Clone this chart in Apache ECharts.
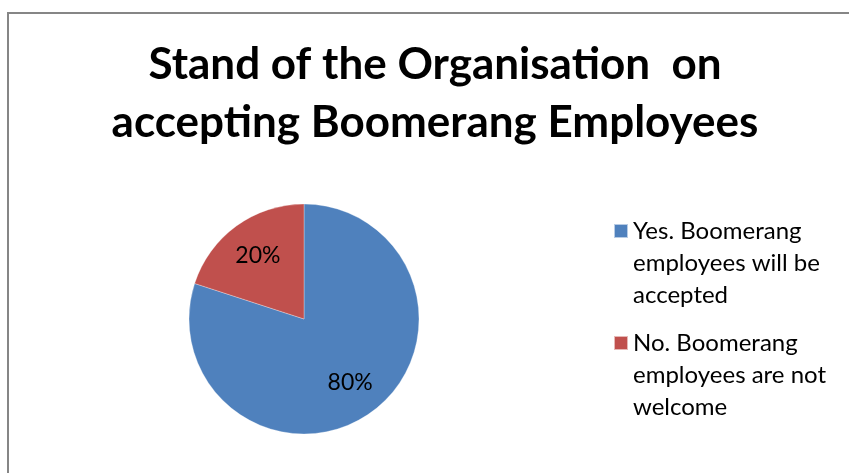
<!DOCTYPE html>
<html>
<head>
<meta charset="utf-8">
<script src="https://cdn.jsdelivr.net/npm/echarts@6/dist/echarts.min.js"></script>
<style>
  html, body { margin: 0; padding: 0; background: #ffffff; }
  #chart { width: 849px; height: 473px; }
</style>
</head>
<body>
<div id="chart"></div>
<script>
// Survey answers and their shares (percent)
const categories = [
  'Yes. Boomerang\nemployees will be\naccepted',
  'No. Boomerang\nemployees are not\nwelcome'
];
const shares = [80, 20];
const sliceColors = ['#4F81BD', '#C0504D'];
const titleLines = ['Stand of the Organisation  on', 'accepting Boomerang Employees'];

const pieData = categories.map((name, i) => ({
  name: name,
  value: shares[i],
  itemStyle: { color: sliceColors[i] }
}));

const chart = echarts.init(document.getElementById('chart'), null, { renderer: 'canvas' });

chart.setOption({
  backgroundColor: '#ffffff',
  animation: false,
  title: {
    text: titleLines.join('\n'),
    left: 430,
    top: 31,
    textAlign: 'center',
    textStyle: {
      fontFamily: 'Lato',
      fontWeight: 'bold',
      fontSize: 44,
      lineHeight: 58,
      color: '#000000'
    }
  },
  legend: {
    orient: 'vertical',
    left: 613,
    top: 151,
    padding: 0,
    itemGap: -48,
    itemWidth: 14,
    itemHeight: 14,
    icon: 'rect',
    selectedMode: false,
    data: categories,
    // two leading blank lines keep the swatch level with the first text line
    formatter: name => '\n\n' + name,
    textStyle: {
      fontFamily: 'Lato',
      fontSize: 24,
      lineHeight: 32,
      color: '#000000'
    }
  },
  graphic: [{
    type: 'rect',
    silent: true,
    shape: { x: 8, y: 13, width: 900, height: 520 },
    style: { fill: null, stroke: '#868686', lineWidth: 2 }
  }],
  series: [
    {
      // filled slices
      type: 'pie',
      center: [304, 319],
      radius: [0, 115],
      startAngle: 90,
      clockwise: true,
      silent: true,
      label: { show: false },
      labelLine: { show: false },
      itemStyle: { borderColor: 'rgba(255,255,255,0.6)', borderWidth: 0.5 },
      data: pieData
    },
    {
      // transparent ring carrying the percentage labels
      type: 'pie',
      center: [304, 319],
      radius: [36, 115],
      startAngle: 90,
      clockwise: true,
      silent: true,
      itemStyle: { opacity: 0 },
      label: {
        show: true,
        position: 'inside',
        formatter: '{c}%',
        fontFamily: 'Lato',
        fontSize: 23,
        color: '#000000',
        opacity: 1
      },
      labelLine: { show: false },
      data: pieData
    }
  ]
});
</script>
</body>
</html>
